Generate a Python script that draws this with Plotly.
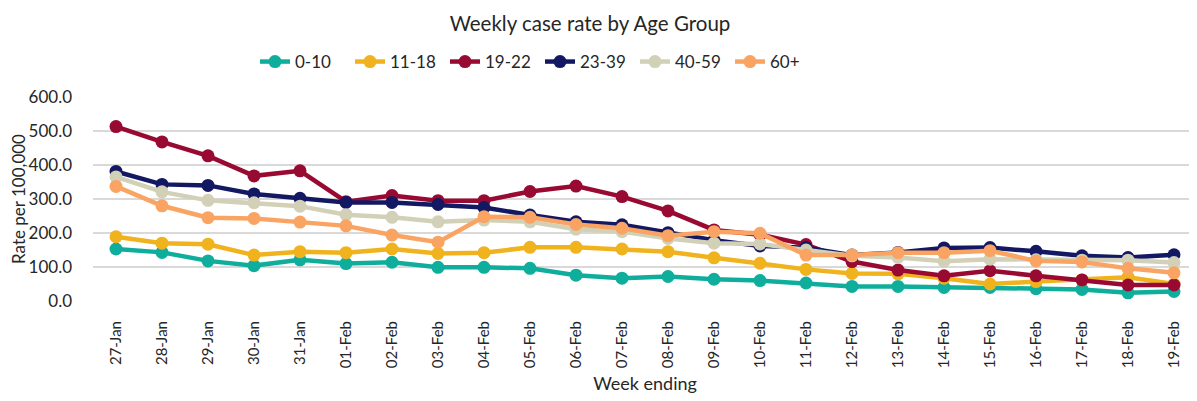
import plotly.graph_objects as go

weeks = ["27-Jan", "28-Jan", "29-Jan", "30-Jan", "31-Jan", "01-Feb", "02-Feb", "03-Feb",
         "04-Feb", "05-Feb", "06-Feb", "07-Feb", "08-Feb", "09-Feb", "10-Feb", "11-Feb",
         "12-Feb", "13-Feb", "14-Feb", "15-Feb", "16-Feb", "17-Feb", "18-Feb", "19-Feb"]

age_0_10 = [153, 143, 118, 104, 121, 110, 114, 99, 99, 96, 76, 67, 72, 64, 60, 53,
            43, 43, 40, 40, 36, 34, 24, 28]
age_11_18 = [189, 170, 167, 135, 145, 142, 153, 140, 142, 158, 158, 153, 145, 127, 111, 93,
             81, 80, 67, 50, 57, 62, 70, 50]
age_19_22 = [513, 468, 427, 368, 383, 292, 310, 295, 295, 322, 338, 307, 265, 209, 195, 166,
             116, 91, 74, 89, 74, 62, 47, 47]
age_23_39 = [381, 343, 340, 315, 302, 290, 290, 284, 275, 253, 233, 224, 201, 179, 162, 157,
             135, 143, 156, 157, 146, 133, 128, 136]
age_40_59 = [365, 321, 296, 289, 279, 254, 246, 233, 238, 233, 211, 204, 184, 170, 168, 150,
             133, 128, 117, 123, 121, 120, 120, 113]
age_60p = [337, 280, 245, 243, 232, 221, 194, 173, 248, 246, 225, 214, 192, 204, 199, 135,
           135, 142, 142, 148, 118, 115, 96, 83]

series = [
    ("0-10", age_0_10, "#0FAE9C"),
    ("11-18", age_11_18, "#F0B31E"),
    ("19-22", age_19_22, "#990A33"),
    ("23-39", age_23_39, "#131862"),
    ("40-59", age_40_59, "#D2D1B8"),
    ("60+", age_60p, "#F9A463"),
]

FONT = "Lato, Open Sans, sans-serif"

# The page body has an 8px margin, so the figure is 8px smaller than the window
W, H = 1189, 393
L, T, B = 85, 89, 100
PH = H - T - B

fig = go.Figure()
for name, vals, color in series:
    fig.add_trace(go.Scatter(
        x=weeks, y=vals, name=name, mode="lines+markers",
        line=dict(color=color, width=4.5),
        marker=dict(color=color, size=13),
    ))

fig.update_layout(
    width=W, height=H,
    paper_bgcolor="white", plot_bgcolor="white",
    margin=dict(l=L, r=0, t=T, b=B, pad=0),
    font=dict(family=FONT, color="#262626"),
    title=dict(text="Weekly case rate by Age Group", x=582 / W,
               xanchor="center",
               y=1 - 9 / H, yanchor="top", yref="container", pad=dict(t=0, b=0),
               font=dict(size=20.5, color="#262626")),
    legend=dict(orientation="h", x=0.4049, xanchor="center", y=(293 - 54) / PH, yanchor="middle",
                font=dict(size=17, color="#262626"), entrywidth=50,
                bgcolor="rgba(0,0,0,0)"),
    showlegend=True,
)
fig.update_xaxes(
    type="category", tickangle=-90, showgrid=False, zeroline=False, showline=False,
    tickfont=dict(size=15, color="#262626", family=FONT),
    title=dict(text="Week ending", font=dict(size=18, color="#262626"), standoff=10),
    range=[-0.5, 23.5], ticks="", automargin=False, ticklabelstandoff=16,
)
fig.update_yaxes(
    range=[0, 600], dtick=100, tickformat=".1f", showgrid=True, gridcolor="#D9D9D9",
    gridwidth=1.5, zeroline=False, showline=False,
    tickfont=dict(size=17, color="#262626", family=FONT),
    title=dict(text="Rate per 100,000", font=dict(size=17, color="#262626"), standoff=5),
    ticks="", automargin=False, ticklabelstandoff=20,
)

fig.write_html("out.html")
